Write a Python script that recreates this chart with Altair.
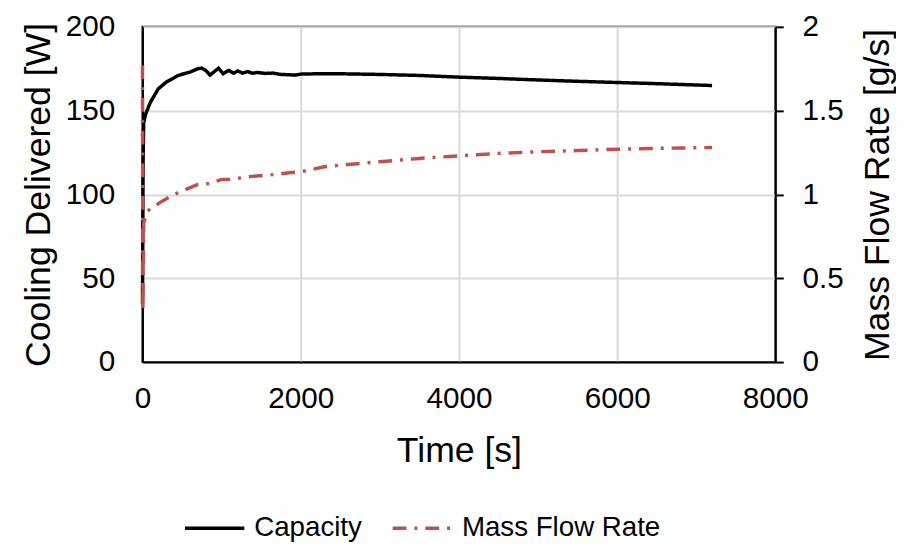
import altair as alt
import pandas as pd

# Capacity series (time [s], cooling delivered [W])
cap_t = [0, 8, 15, 40, 100, 200, 300, 450, 600, 700, 745, 800, 855, 900, 960, 1020,
         1090, 1150, 1205, 1265, 1330, 1390, 1450, 1550, 1650, 1750, 1850, 1930, 2000,
         2200, 2500, 3000, 3500, 4000, 4500, 5000, 5500, 6000, 6500, 7000, 7200]
cap_v = [35, 120, 143, 148, 155, 163, 167, 171, 173, 175, 175.4, 174, 171.2, 173, 175.3, 172,
         174, 172.3, 173.7, 172.4, 173.3, 172.3, 172.8, 172.2, 172.4, 171.6, 171.4, 171.2, 171.8,
         172.0, 172.0, 171.6, 171.0, 170.0, 169.2, 168.3, 167.5, 166.8, 166.1, 165.3, 165.0]

# Mass flow rate series (time [s], g/s)
mfr_t = [0, 5, 15, 60, 150, 250, 400, 550, 700, 855, 1000, 1100, 1390, 1700, 1850, 2000,
         2300, 2500, 3000, 3500, 4000, 4500, 5000, 5500, 6000, 6500, 7200]
mfr_v = [1.77, 0.30, 0.83, 0.90, 0.93, 0.96, 1.00, 1.03, 1.06, 1.065, 1.09, 1.09, 1.108, 1.12, 1.13, 1.135,
         1.165, 1.175, 1.195, 1.215, 1.23, 1.245, 1.255, 1.262, 1.27, 1.275, 1.28]

series_names = ["Capacity", "Mass Flow Rate"]
series_colors = ["#000000", "#C0504D"]
series_dash = [[1, 0], [14, 8, 3, 8]]

x_ticks = [0, 2000, 4000, 6000, 8000]
left_ticks = [0, 50, 100, 150, 200]
right_ticks = [0, 0.5, 1, 1.5, 2]

df = pd.concat([
    pd.DataFrame({"t": cap_t, "v": cap_v, "series": series_names[0]}),
    pd.DataFrame({"t": mfr_t, "v": mfr_v, "series": series_names[1]}),
], ignore_index=True)

FONT = "Liberation Sans"

leg = dict(title=None, orient="none", direction="horizontal",
           legendX=41, legendY=475,
           symbolType="stroke", symbolSize=3600, symbolStrokeWidth=3.5,
           labelFontSize=28, labelFont=FONT, labelColor="black",
           labelOffset=8, columnPadding=24, labelLimit=400)

color = alt.Color("series:N", scale=alt.Scale(domain=series_names, range=series_colors),
                  legend=alt.Legend(**leg))
dash = alt.StrokeDash("series:N", scale=alt.Scale(domain=series_names, range=series_dash),
                      legend=alt.Legend(**leg))

common_axis = dict(labelFont=FONT, labelFontSize=30, labelColor="black",
                   titleFont=FONT, titleFontSize=36, titleColor="black", titleFontWeight="normal",
                   domainColor="black", domainWidth=2)

x = alt.X("t:Q", scale=alt.Scale(domain=[0, 8000], nice=False),
          axis=alt.Axis(title="Time [s]", values=x_ticks, grid=True, ticks=False,
                        labelPadding=22, titlePadding=21, format="d", labelFlush=False,
                        gridColor="#D9D9D9", gridWidth=2, **common_axis))

base = alt.Chart(df)

cap = base.transform_filter(alt.datum.series == series_names[0]).mark_line(strokeWidth=3.5).encode(
    x=x,
    y=alt.Y("v:Q", scale=alt.Scale(domain=[0, 200], nice=False),
            axis=alt.Axis(title="Cooling Delivered [W]", orient="left", values=left_ticks,
                          grid=True, ticks=False, labelPadding=28, titlePadding=8,
                          gridColor="#D9D9D9", gridWidth=2, **common_axis)),
    color=color, strokeDash=dash, order="t:Q")

mfr = base.transform_filter(alt.datum.series == series_names[1]).mark_line(strokeWidth=3.5).encode(
    x=x,
    y=alt.Y("v:Q", scale=alt.Scale(domain=[0, 2], nice=False),
            axis=alt.Axis(title="Mass Flow Rate [g/s]", orient="right", values=right_ticks,
                          grid=False, ticks=True, tickSize=8, tickWidth=2, tickColor="black",
                          labelPadding=19, titlePadding=18, format="~g", titleAngle=270,
                          titleBaseline="top", **common_axis)),
    color=color, strokeDash=dash, order="t:Q")

chart = alt.layer(cap, mfr).resolve_scale(y="independent").properties(
    width=640, height=339, background="white",
    padding={"left": 12, "top": 1, "right": 0, "bottom": 5}
).configure_view(stroke="black", strokeWidth=2)

chart.save("out.html", embed_options={"renderer": "svg", "actions": False})
